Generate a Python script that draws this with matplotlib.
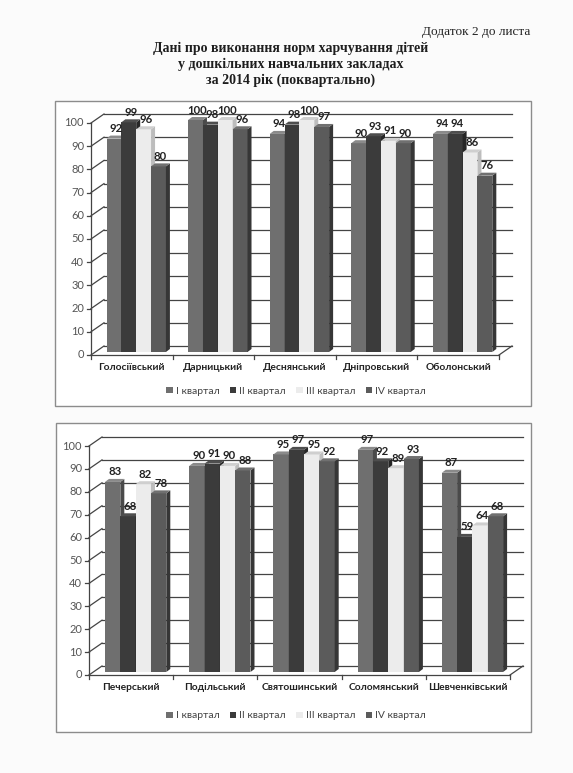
"""
Дані про виконання норм харчування дітей у ДНЗ за 2014 рік (поквартально)
Two Excel-like 3D column charts redrawn with matplotlib.
"""

import matplotlib
matplotlib.use('Agg')
import matplotlib.pyplot as plt
from matplotlib.patches import Rectangle, Polygon

###########################
# Data
###########################

quarters = ['I квартал', 'II квартал', 'III квартал', 'IV квартал']

districts_top = ['Голосіївський', 'Дарницький', 'Деснянський', 'Дніпровський', 'Оболонський']
q1_top = [92, 100, 94, 90, 94]
q2_top = [99, 98, 98, 93, 94]
q3_top = [96, 100, 100, 91, 86]
q4_top = [80, 96, 97, 90, 76]

districts_bottom = ['Печерський', 'Подільський', 'Святошинський', 'Соломянський', 'Шевченківський']
q1_bottom = [83, 90, 95, 97, 87]
q2_bottom = [68, 91, 97, 92, 59]
q3_bottom = [82, 90, 95, 89, 64]
q4_bottom = [78, 88, 92, 93, 68]

y_ticks = [0, 10, 20, 30, 40, 50, 60, 70, 80, 90, 100]

# front, side, top colours for each quarter
front_cols = ['#6f6f6f', '#3b3b3b', '#ececec', '#5b5b5b']
side_cols = ['#4a4a4a', '#262626', '#bdbdbd', '#363636']
top_cols = ['#8a8a8a', '#4e4e4e', '#cfcfcf', '#707070']

W, H, DPI = 573, 773, 100
LABEL_FONT = 'Lato'

fig = plt.figure(figsize=(W / DPI, H / DPI), dpi=DPI)
fig.patch.set_facecolor('#fbfbfb')

# page layer in pixel coordinates
page = fig.add_axes([0, 0, 1, 1], zorder=0)
page.set_xlim(0, W)
page.set_ylim(H, 0)
page.axis('off')

page.text(530, 32, 'Додаток 2 до листа', ha='right', va='center',
          family='Liberation Serif', fontsize=9.5, color='#222222')
title_lines = ['Дані про виконання норм харчування дітей',
               'у дошкільних навчальних закладах',
               'за 2014 рік (поквартально)']
for i, line in enumerate(title_lines):
    page.text(291, 48 + i * 16, line, ha='center', va='center',
              family='Liberation Serif', fontweight='bold', fontsize=10,
              color='#1e1e1e')

# chart frames
page.add_patch(Rectangle((55, 101), 476, 305, facecolor='white',
                         edgecolor='#8c8c8c', lw=1.0))
page.add_patch(Rectangle((56, 423), 475, 309, facecolor='white',
                         edgecolor='#8c8c8c', lw=1.0))


def draw_chart(x0, x1, ytop, ybot, cats, series, legend_y):
    ax = fig.add_axes([x0 / W, 1 - ybot / H, (x1 - x0) / W, (ybot - ytop) / H],
                      zorder=2)
    ax.set_xlim(0, len(cats))
    ax.set_ylim(0, 100)
    ax.axis('off')
    ax.patch.set_alpha(0)

    px_x = len(cats) / (x1 - x0)      # data units per pixel
    px_y = 100 / (ybot - ytop)
    wdx, wdy = 13 * px_x, 9 * px_y    # wall depth
    bdx, bdy = 4 * px_x, 3 * px_y     # bar depth
    lift = 3 * px_y
    n = len(cats)
    grid_kw = dict(color='#444444', lw=0.9, clip_on=False)

    # gridlines on left wall and back wall
    for t in y_ticks:
        ax.plot([0, wdx], [t, t + wdy], **grid_kw)
        ax.plot([wdx, n + wdx], [t + wdy, t + wdy], **grid_kw)
        ax.plot([-4 * px_x, 0], [t, t], **grid_kw)
        ax.text(-7 * px_x, t, str(t), ha='right', va='center',
                family=LABEL_FONT, fontsize=8, color='#555555')
    # axis, floor
    ax.plot([0, 0], [0, 100], **grid_kw)
    ax.plot([0, n], [0, 0], **grid_kw)
    ax.plot([n, n + wdx], [0, wdy], **grid_kw)
    for k in range(n + 1):
        ax.plot([k, k], [0, -4 * px_y], **grid_kw)

    bw = 0.182
    start = 0.19
    for c in range(n):
        for q in range(len(series)):
            v = series[q][c]
            xl = c + start + q * bw
            xr = xl + bw
            yb = lift
            yt = lift + v
            ax.add_patch(Rectangle((xl, yb), bw, v, facecolor=front_cols[q],
                                   edgecolor='none', clip_on=False, zorder=3))
            ax.add_patch(Polygon([(xr, yb), (xr + bdx, yb + bdy),
                                  (xr + bdx, yt + bdy), (xr, yt)],
                                 facecolor=side_cols[q], edgecolor='none',
                                 clip_on=False, zorder=3))
            ax.add_patch(Polygon([(xl, yt), (xl + bdx, yt + bdy),
                                  (xr + bdx, yt + bdy), (xr, yt)],
                                 facecolor=top_cols[q], edgecolor='none',
                                 clip_on=False, zorder=3))
            ax.text(xl + bw / 2 + 2 * px_x, yt + 10 * px_y, str(v),
                    ha='center', va='center', family=LABEL_FONT,
                    fontweight='bold', fontsize=8.2, color='#222222', zorder=4)
        ax.text(c + 0.5, -13 * px_y, cats[c], ha='center', va='center',
                family=LABEL_FONT, fontweight='bold', fontsize=7.4,
                color='#222222')

    # legend
    handles = [Rectangle((0, 0), 1, 1, facecolor=front_cols[q], edgecolor='none')
               for q in range(len(series))]
    fig.legend(handles, quarters, loc='center', ncol=4, frameon=False,
               bbox_to_anchor=(296 / W, 1 - legend_y / H),
               prop={'family': LABEL_FONT, 'size': 7.5}, handlelength=0.6,
               handleheight=0.6, handletextpad=0.3, columnspacing=1.0,
               labelcolor='#444444')
    return ax


draw_chart(91, 499, 123, 355, districts_top,
           [q1_top, q2_top, q3_top, q4_top], 391)
draw_chart(89, 510, 446, 675, districts_bottom,
           [q1_bottom, q2_bottom, q3_bottom, q4_bottom], 716)

fig.savefig('out.png', dpi=DPI, facecolor=fig.get_facecolor())
